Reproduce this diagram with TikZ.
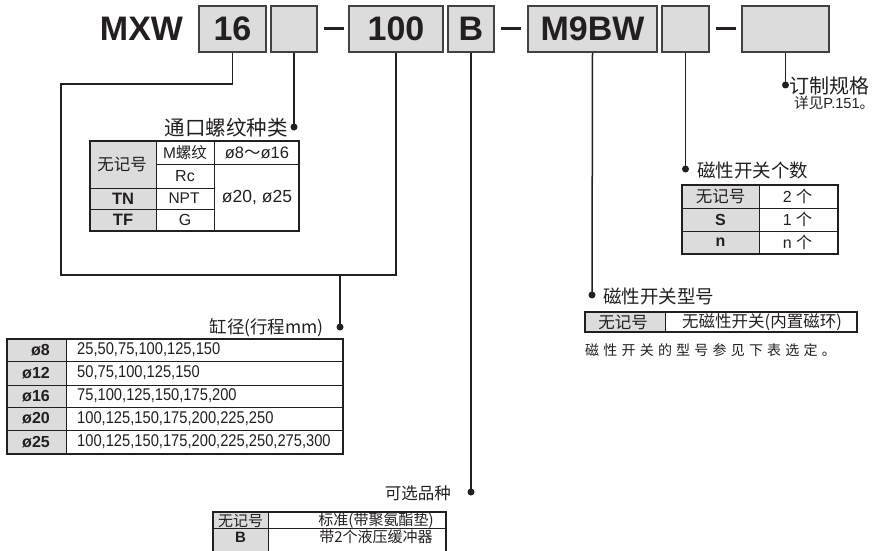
\documentclass[tikz,border=0pt]{standalone}
\usepackage{fontspec}
\setmainfont{Liberation Sans}
\newfontfamily\cjk{Noto Sans CJK SC}
\newfontfamily\cjkwide[LetterSpace=30]{Noto Sans CJK SC}
\newfontfamily\narrowf[FakeStretch=0.865]{Liberation Sans}
\usetikzlibrary{calc}
\definecolor{boxgray}{HTML}{DCDCDC}
\definecolor{ink}{HTML}{231F20}
\newcommand\fsz[1]{\fontsize{#1}{#1}\selectfont}
\tikzset{
  pbox/.style={draw=ink!85, line width=1.6pt, fill=boxgray, minimum height=46pt, inner sep=0pt, text=ink, font=\fsz{34}\bfseries},
  conn/.style={draw=ink, line width=1.5pt},
  dotn/.style={circle, fill=ink, inner sep=0pt, minimum size=7pt},
  dsh/.style={draw=ink, line width=3pt},
  tline/.style={draw=ink, line width=0.8pt},
  tframe/.style={draw=ink, line width=1.2pt},
  cell/.style={inner sep=0pt, text=ink, font=\fsz{15}},
  bcell/.style={inner sep=0pt, text=ink, font=\fsz{16}\bfseries},
  ttl/.style={inner sep=0pt, text=ink},
}
\begin{document}
\begin{tikzpicture}[x=1pt,y=-1pt]
\useasboundingbox (0,0) rectangle (879,551);

% ---------- header ----------
\node[ttl, font=\fsz{34}\bfseries] (mxw) at (141.5,29) {MXW};
\node[pbox, minimum width=67pt]  (b16)  at (232.5,29) {16};
\node[pbox, minimum width=46pt]  (b2)   at (294,29) {};
\node[pbox, minimum width=94pt]  (b100) at (396,29) {100};
\node[pbox, minimum width=46pt]  (bB)   at (471,29) {B};
\node[pbox, minimum width=129pt] (bM)   at (592.5,29) {M9BW};
\node[pbox, minimum width=47pt]  (bE)   at (685.5,29) {};
\node[pbox, minimum width=87pt]  (bL)   at (785.5,29) {};
\draw[dsh] ($(b2.east)+(6,0)$) -- ($(b100.west)+(-4,0)$);
\draw[dsh] ($(bB.east)+(6,0)$) -- ($(bM.west)+(-6,0)$);
\draw[dsh] ($(bE.east)+(6,0)$) -- ($(bL.west)+(-5,0)$);

% ---------- dots ----------
\node[dotn] (dPort)  at (294,127) {};
\node[dotn] (dBore)  at (340,327) {};
\node[dotn] (dOpt)   at (471,492) {};
\node[dotn] (dSw)    at (592,295) {};
\node[dotn] (dCnt)   at (685.5,169) {};
\node[dotn] (dCust)  at (785.5,85) {};

% ---------- connectors ----------
\coordinate (r1) at (61,84);
\coordinate (r2) at (61,275);
\coordinate (bj) at (340,275);
\draw[conn] (b16.south) |- (r1) -- (r2) -| (b100.south);
\draw[conn] (bj) -- (dBore.center);
\draw[conn] (b2.south) -- (dPort.center);
\draw[conn] (bB.south) -- (dOpt.center);
\draw[conn] (bM.south) -- (dSw.center);
\draw[conn] (bE.south) -- (dCnt.center);
\draw[conn] (bL.south) -- (dCust.center);

% ---------- custom spec ----------
\node[ttl, anchor=west, font=\fsz{20}\cjk] (tCust) at (789,86) {订制规格};
\node[ttl, anchor=west, font=\fsz{14.6}] (tCust2) at (794,103) {{\cjk 详见}P.151{\cjk 。}};

% ---------- port thread ----------
\node[ttl, anchor=east, font=\fsz{20.5}\cjk] (tPort) at (288,128) {通口螺纹种类};
\fill[boxgray] (90,141) rectangle (156,231);
\draw[tline] (156,164) -- (299,164) (90,188) -- (214,188) (90,209) -- (214,209)
             (156,141) -- (156,231) (214,141) -- (214,231);
\draw[tframe] (90,141) rectangle (299,231);
\node[cell, font=\fsz{16.5}\cjk] (p11) at (122,164.5) {无记号};
\node[cell, font=\fsz{15.5}] (p12) at (185,152.5) {M{\cjk 螺纹}};
\node[cell, font=\fsz{16.5}] (p13) at (257,152.5) {ø8{\cjk ～}ø16};
\node[cell, font=\fsz{16}] (p22) at (185,176) {Rc};
\node[bcell, font=\fsz{16.5}\bfseries] (p31) at (123,198.5) {TN};
\node[cell, font=\fsz{15.5}] (p32) at (184,198.5) {NPT};
\node[cell, font=\fsz{17.5}] (p33) at (257,197.5) {ø20, ø25};
\node[bcell, font=\fsz{16.5}\bfseries] (p41) at (123,220) {TF};
\node[cell, font=\fsz{16}] (p42) at (185,220) {G};

% ---------- bore / stroke ----------
\node[ttl, anchor=east, font=\fsz{17.5}\cjk] (tBore) at (324,328) {缸径(行程mm)};
\fill[boxgray] (7,339) rectangle (66,454);
\draw[tline] (7,361) -- (343,361) (7,385) -- (343,385) (7,407) -- (343,407) (7,430) -- (343,430)
             (66,339) -- (66,454);
\draw[tframe] (7,339) rectangle (343,454);
\draw[draw=ink, line width=2pt] (7,339) -- (343,339);
\node[bcell, anchor=east] (s1) at (50,350) {ø8};
\node[bcell, anchor=east] (s2) at (50,373) {ø12};
\node[bcell, anchor=east] (s3) at (50,396) {ø16};
\node[bcell, anchor=east] (s4) at (50,418.5) {ø20};
\node[bcell, anchor=east] (s5) at (50,442) {ø25};
\node[cell, anchor=west, font=\fsz{17}\narrowf] (v1) at (77,350) {25,50,75,100,125,150};
\node[cell, anchor=west, font=\fsz{17}\narrowf] (v2) at (77,373) {50,75,100,125,150};
\node[cell, anchor=west, font=\fsz{17}\narrowf] (v3) at (77,396) {75,100,125,150,175,200};
\node[cell, anchor=west, font=\fsz{17}\narrowf] (v4) at (77,418.5) {100,125,150,175,200,225,250};
\node[cell, anchor=west, font=\fsz{17}\narrowf] (v5) at (77,442) {100,125,150,175,200,225,250,275,300};

% ---------- options ----------
\node[ttl, anchor=east, font=\fsz{16.5}\cjk] (tOpt) at (451,493) {可选品种};
\fill[boxgray] (213,512) rectangle (268,551);
\draw[tline] (213,528) -- (446,528) (268,512) -- (268,551);
\draw[tframe] (213,551) -- (213,512) -- (446,512) -- (446,551);
\node[cell, font=\fsz{15}\cjk] (o11) at (240.5,520.5) {无记号};
\node[bcell, font=\fsz{15}\bfseries] (o21) at (240.5,537) {B};
\node[cell, font=\fsz{15}\cjk] (o12) at (376,520.5) {标准(带聚氨酯垫)};
\node[cell, font=\fsz{15}\cjk] (o22) at (376,537) {带2个液压缓冲器};

% ---------- switch count ----------
\node[ttl, anchor=west, font=\fsz{18.5}\cjk] (tCnt) at (697,170) {磁性开关个数};
\fill[boxgray] (682,185) rectangle (759,254);
\draw[tline] (682,208) -- (838,208) (682,231) -- (838,231) (759,185) -- (759,254);
\draw[tframe] (682,185) rectangle (838,254);
\node[cell, font=\fsz{16.5}\cjk] (c11) at (720.5,196.5) {无记号};
\node[bcell] (c21) at (720.5,219.5) {S};
\node[bcell] (c31) at (720.5,242.5) {n};
\node[cell, font=\fsz{16}] (c12) at (797.5,196.5) {2 {\cjk 个}};
\node[cell, font=\fsz{16}] (c22) at (797.5,219.5) {1 {\cjk 个}};
\node[cell, font=\fsz{16}] (c32) at (797.5,242.5) {n {\cjk 个}};

% ---------- switch model ----------
\node[ttl, anchor=west, font=\fsz{18.5}\cjk] (tSw) at (603,296) {磁性开关型号};
\fill[boxgray] (585,312) rectangle (665,332);
\draw[tline] (665,312) -- (665,332);
\draw[tframe] (585,312) rectangle (857,332);
\node[cell, font=\fsz{16.5}\cjk] (w11) at (623,322) {无记号};
\node[cell, font=\fsz{16.5}\cjk] (w12) at (762,322) {无磁性开关(内置磁环)};
\node[ttl, anchor=west, font=\fsz{14}\cjkwide] (tSwNote) at (585,350) {磁性开关的型号参见下表选定。};
\end{tikzpicture}
\end{document}
